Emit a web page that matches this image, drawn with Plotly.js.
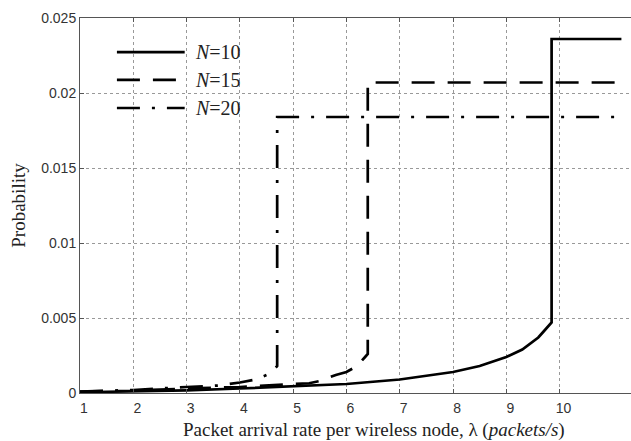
<!DOCTYPE html>
<html>
<head>
<meta charset="utf-8">
<script src="https://cdn.plot.ly/plotly-3.0.1.min.js"></script>
<style>
  html, body { margin: 0; padding: 0; background: #fff; overflow: hidden; }
  #chart { width: 631px; height: 441px; }
</style>
</head>
<body>
<div id="chart"></div>
<script>
// Packet arrival rate per node (packets/s) and resulting probability, per network size N
const lambdaN10 = [1, 2, 3, 4, 5, 6, 7, 8, 8.5, 9, 9.3, 9.5, 9.6, 9.7, 9.75, 9.8, 9.85, 9.85, 11.16];
const probN10   = [0.00005, 0.0001, 0.00018, 0.0003, 0.00045, 0.0006, 0.0009, 0.0014, 0.0018, 0.0024, 0.0029, 0.0034, 0.0037, 0.0041, 0.0043, 0.0045, 0.0047, 0.0236, 0.0236];

const lambdaN15 = [1, 2, 3, 4, 5, 5.3, 5.5, 5.8, 6, 6.2, 6.35, 6.4, 6.4, 11.16];
const probN15   = [0.0001, 0.00015, 0.0003, 0.0004, 0.0006, 0.00065, 0.0008, 0.0012, 0.0014, 0.0018, 0.0024, 0.0026, 0.0207, 0.0207];

const lambdaN20 = [1, 2, 3, 3.6, 4, 4.3, 4.5, 4.65, 4.7, 4.7, 11.16];
const probN20   = [0.0001, 0.0002, 0.0004, 0.0005, 0.0007, 0.0009, 0.0012, 0.0016, 0.0018, 0.0184, 0.0184];

const seriesNames = ['<i>N</i>=10', '<i>N</i>=15', '<i>N</i>=20'];
const xTicks = [1, 2, 3, 4, 5, 6, 7, 8, 9, 10];
const yTicks = [0, 0.005, 0.01, 0.015, 0.02, 0.025];
const yTickText = ['0', '0.005', '0.01', '0.015', '0.02', '0.025'];

const dashes = ['solid', '23px,13px', '23px,12px,3px,12px'];
const serif = '"Liberation Serif", "Times New Roman", serif';
const sans = '"Liberation Sans", Arial, sans-serif';

const traces = [
  { x: lambdaN10, y: probN10 },
  { x: lambdaN15, y: probN15 },
  { x: lambdaN20, y: probN20 }
].map((s, i) => ({
  x: s.x, y: s.y, type: 'scatter', mode: 'lines', name: seriesNames[i],
  line: { color: '#000', width: 2.7, dash: dashes[i] },
  hoverinfo: 'skip'
}));

// Hand-drawn legend: long sample lines with labels at the upper left
const legendRowsY = [0.909, 0.835, 0.76];
const shapes = [];
const annotations = [];
legendRowsY.forEach((yy, i) => {
  shapes.push({
    type: 'line', xref: 'paper', yref: 'paper',
    x0: 0.067, x1: 0.19, y0: yy, y1: yy,
    line: { color: '#000', width: 2.7, dash: dashes[i] }
  });
  annotations.push({
    xref: 'paper', yref: 'paper', x: 0.205, y: yy,
    xanchor: 'left', yanchor: 'middle', showarrow: false,
    text: seriesNames[i], font: { family: serif, size: 20, color: '#222' }
  });
});
annotations.push({
  xref: 'paper', yref: 'paper', x: 0.534, y: -0.098,
  xanchor: 'center', yanchor: 'middle', showarrow: false,
  text: 'Packet arrival rate per wireless node, λ (<i>packets/s</i>)',
  font: { family: serif, size: 19, color: '#222' }
});

const layout = {
  width: 631, height: 441,
  margin: { l: 80, r: 0, t: 18, b: 48 },
  paper_bgcolor: '#fff', plot_bgcolor: '#fff',
  showlegend: false,
  xaxis: {
    range: [1, 11.34], tickvals: xTicks,
    showgrid: true, gridcolor: '#999', griddash: 'dot', gridwidth: 1,
    zeroline: false, showline: true, linecolor: '#555', linewidth: 1,
    mirror: 'ticks', ticks: 'inside', ticklen: 4, tickcolor: '#555',
    ticklabelshift: 4, ticklabelstandoff: 2,
    tickfont: { family: sans, size: 14, color: '#333' }
  },
  yaxis: {
    range: [0, 0.025], tickvals: yTicks, ticktext: yTickText,
    showgrid: true, gridcolor: '#999', griddash: 'dot', gridwidth: 1,
    zeroline: false, showline: true, linecolor: '#555', linewidth: 1,
    ticks: 'inside', ticklen: 4, tickcolor: '#555',
    tickfont: { family: sans, size: 14, color: '#333' },
    title: { text: 'Probability', font: { family: serif, size: 19, color: '#222' }, standoff: 10 }
  },
  shapes: shapes,
  annotations: annotations
};

Plotly.newPlot('chart', traces, layout, { displayModeBar: false, staticPlot: true });
</script>
</body>
</html>
